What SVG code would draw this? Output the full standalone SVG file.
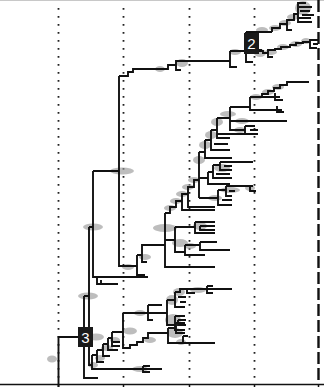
<svg xmlns="http://www.w3.org/2000/svg" width="324" height="387" viewBox="0 0 324 387">
<style>
.dot{stroke:#222;stroke-width:1.8;stroke-dasharray:1.8 6.2;fill:none}
.dash{stroke:#111;stroke-width:2.4;stroke-dasharray:12 4;fill:none}
.ax{stroke:#111;stroke-width:1.5;fill:none}
.t{stroke:#111;stroke-width:1.9;fill:none;stroke-linejoin:miter}
.h{fill:#9a9a9a;opacity:.65}
.box{fill:#1a1a1a}
.lbl{fill:#fff;font-family:"Liberation Sans",Arial,sans-serif;font-size:15px;text-anchor:middle}
</style>
<rect width="324" height="387" fill="#fff"/>
<g id="grid">
<line x1="0" y1="0.5" x2="324" y2="0.5" stroke="#c8c8c8" stroke-width="1"/>
<line class="dot" x1="58.5" y1="8" x2="58.5" y2="384"/>
<line class="dot" x1="123.5" y1="8" x2="123.5" y2="384"/>
<line class="dot" x1="189.5" y1="8" x2="189.5" y2="384"/>
<line class="dot" x1="254.5" y1="8" x2="254.5" y2="384"/>
<line class="dash" x1="318.5" y1="0" x2="318.5" y2="384"/>
<line class="ax" x1="0" y1="384.5" x2="324" y2="384.5"/>
<path class="ax" d="M58.5 384V387M123.5 384V387M189.5 384V387M254.5 384V387M318.5 384V387"/>
</g>
<g id="halos">
<ellipse class="h" cx="52" cy="359" rx="5" ry="3.5"/>
<ellipse class="h" cx="88" cy="296" rx="10" ry="3.5"/>
<ellipse class="h" cx="96" cy="337" rx="8" ry="3.5"/>
<ellipse class="h" cx="93" cy="227" rx="10" ry="3.5"/>
<ellipse class="h" cx="122" cy="171" rx="12" ry="3.5"/>
<ellipse class="h" cx="130" cy="331" rx="7" ry="3.5"/>
<ellipse class="h" cx="140" cy="313" rx="6" ry="3"/>
<ellipse class="h" cx="140" cy="369" rx="8" ry="3"/>
<ellipse class="h" cx="107" cy="348" rx="6" ry="3"/>
<ellipse class="h" cx="100" cy="358" rx="5" ry="3"/>
<ellipse class="h" cx="93" cy="365" rx="5" ry="3"/>
<ellipse class="h" cx="115" cy="340" rx="5" ry="3"/>
<ellipse class="h" cx="150" cy="340" rx="6" ry="3"/>
<ellipse class="h" cx="172" cy="300" rx="6" ry="5"/>
<ellipse class="h" cx="179" cy="292" rx="6" ry="4"/>
<ellipse class="h" cx="173" cy="320" rx="8" ry="6"/>
<ellipse class="h" cx="175" cy="333" rx="8" ry="5"/>
<ellipse class="h" cx="198" cy="290" rx="8" ry="3"/>
<ellipse class="h" cx="181" cy="342" rx="5" ry="3"/>
<ellipse class="h" cx="160" cy="69" rx="5" ry="3"/>
<ellipse class="h" cx="182" cy="63" rx="6" ry="4"/>
<ellipse class="h" cx="235" cy="52" rx="6" ry="3"/>
<ellipse class="h" cx="128" cy="267" rx="6" ry="3"/>
<ellipse class="h" cx="145" cy="257" rx="6" ry="3"/>
<ellipse class="h" cx="260" cy="53" rx="6" ry="4"/>
<ellipse class="h" cx="271" cy="52" rx="6" ry="3"/>
<ellipse class="h" cx="283" cy="47" rx="6" ry="3"/>
<ellipse class="h" cx="296" cy="44" rx="6" ry="3"/>
<ellipse class="h" cx="306" cy="41" rx="5" ry="3"/>
<ellipse class="h" cx="262" cy="30" rx="6" ry="3"/>
<ellipse class="h" cx="275" cy="28" rx="6" ry="3"/>
<ellipse class="h" cx="285" cy="23" rx="6" ry="3"/>
<ellipse class="h" cx="293" cy="17" rx="6" ry="3"/>
<ellipse class="h" cx="303" cy="8" rx="8" ry="7"/>
<ellipse class="h" cx="165" cy="228" rx="12" ry="4"/>
<ellipse class="h" cx="180" cy="243" rx="8" ry="4"/>
<ellipse class="h" cx="170" cy="208" rx="6" ry="3"/>
<ellipse class="h" cx="176" cy="201" rx="6" ry="3"/>
<ellipse class="h" cx="182" cy="194" rx="6" ry="3"/>
<ellipse class="h" cx="188" cy="187" rx="6" ry="3"/>
<ellipse class="h" cx="194" cy="180" rx="6" ry="3"/>
<ellipse class="h" cx="199" cy="160" rx="6" ry="4"/>
<ellipse class="h" cx="205" cy="145" rx="6" ry="4"/>
<ellipse class="h" cx="211" cy="135" rx="6" ry="4"/>
<ellipse class="h" cx="217" cy="122" rx="6" ry="4"/>
<ellipse class="h" cx="228" cy="114" rx="8" ry="3"/>
<ellipse class="h" cx="242" cy="121" rx="7" ry="3"/>
<ellipse class="h" cx="256" cy="97" rx="6" ry="3"/>
<ellipse class="h" cx="268" cy="92" rx="6" ry="3"/>
<ellipse class="h" cx="278" cy="87" rx="6" ry="3"/>
<ellipse class="h" cx="222" cy="168" rx="8" ry="4"/>
<ellipse class="h" cx="230" cy="190" rx="10" ry="3"/>
<ellipse class="h" cx="215" cy="198" rx="7" ry="3"/>
<ellipse class="h" cx="200" cy="226" rx="7" ry="4"/>
<ellipse class="h" cx="190" cy="246" rx="6" ry="3"/>
<ellipse class="h" cx="250" cy="188" rx="5" ry="3"/>
<ellipse class="h" cx="240" cy="130" rx="6" ry="3"/>
</g>
<g id="connectors">
<path class="t" d="M58.5 387V337H80"/>
<path class="t" d="M84 296V378H98M84 296H89"/>
<path class="t" d="M89 227V365H92M89 227H93"/>
<path class="t" d="M93 171V277H148M93 171H119M97 277V284H118M101 280V284"/>
<path class="t" d="M119 76V266H137M137 255V275H145M137 255H142V245H165M142 245V262H147"/>
<path class="t" d="M119 76H128V72H133V69H168V65H176V61H230M176 61V70H181"/>
<path class="t" d="M230 51V67H237M230 51H245M246 32V62H253M246 32H272M246 50H262"/>
<path class="t" d="M272 32V28H280V24H287V20H294V14H298M287 24V30H292M298 2V22H312M298 3H306M299 7H312M300 11H310M302 15H314M298 18H311"/>
<path class="t" d="M259 51H263V53H268V50H275V49H281V47H290V45H296V43H303V42H310V40H318M310 40V48H317M313 44H318M268 53V57H273"/>
<path class="t" d="M165 213V267H215M165 240H175M175 227V252H185M175 227H195M195 222V233H215M195 222H215M200 226V230H215M200 226H215"/>
<path class="t" d="M185 245V255H205M185 245H200M200 242V250H230M200 242H217"/>
<path class="t" d="M165 213H170V207H176V201H182V194H188V187H194V180H199M182 194V210H215M188 187V207H215"/>
<path class="t" d="M199 152V198M199 152H205M205 140V158H232M205 140H211M211 130V150H230M211 130H217M214 144H228M217 118V138H230M217 118H230M217 134H253"/>
<path class="t" d="M230 107V130H245M230 107H250M230 121H287M250 97V110H282M277 106V112H284M250 97H280M262 97V94H268V91H274V88H280V85H287V82H309M275 93V100H283M245 126V134H258M245 126H255M250 130H258"/>
<path class="t" d="M199 178H208M208 172V184H230M208 172H213M213 165V178H232M213 165H220M220 162V170H232M220 162H253M216 174H230M224 166H232"/>
<path class="t" d="M199 198H218M218 190V205H232M218 190H226M226 186V196H232M226 186H253M250 186V191H256M222 200H232M229 191H235"/>
<path class="t" d="M89 365H92M92 355V369H162M143 366V372H150M143 366H150M92 355H97M97 350V362H104M97 350H103M103 344V356H110M103 344H108M108 338V350H118M108 338H112M112 332V346H120M112 332H123M113 342H120"/>
<path class="t" d="M123 313V348H130V345H137V342H143V338H148V333H168M123 313H167M148 305V320H153M148 305H162"/>
<path class="t" d="M167 300V325H175M167 300H175M175 292V307H185M175 292H180V289H187M187 289H232M187 289V293H195M207 286V293H213M207 286H213M178 297H186M180 302H186"/>
<path class="t" d="M175 316V330H185M175 316H185M178 320V325H186M178 320H186"/>
<path class="t" d="M168 328V343H183M168 328H176M176 323V333H185M176 323H185M183 336V343H215M183 336H188"/>
</g>
<g id="node-2">
<rect class="box" x="244" y="33" width="15" height="21"/>
<text class="lbl" x="251.5" y="49">2</text>
</g>
<g id="node-3">
<rect class="box" x="78" y="327" width="15" height="20"/>
<text class="lbl" x="85.5" y="342.5">3</text>
</g>
</svg>
